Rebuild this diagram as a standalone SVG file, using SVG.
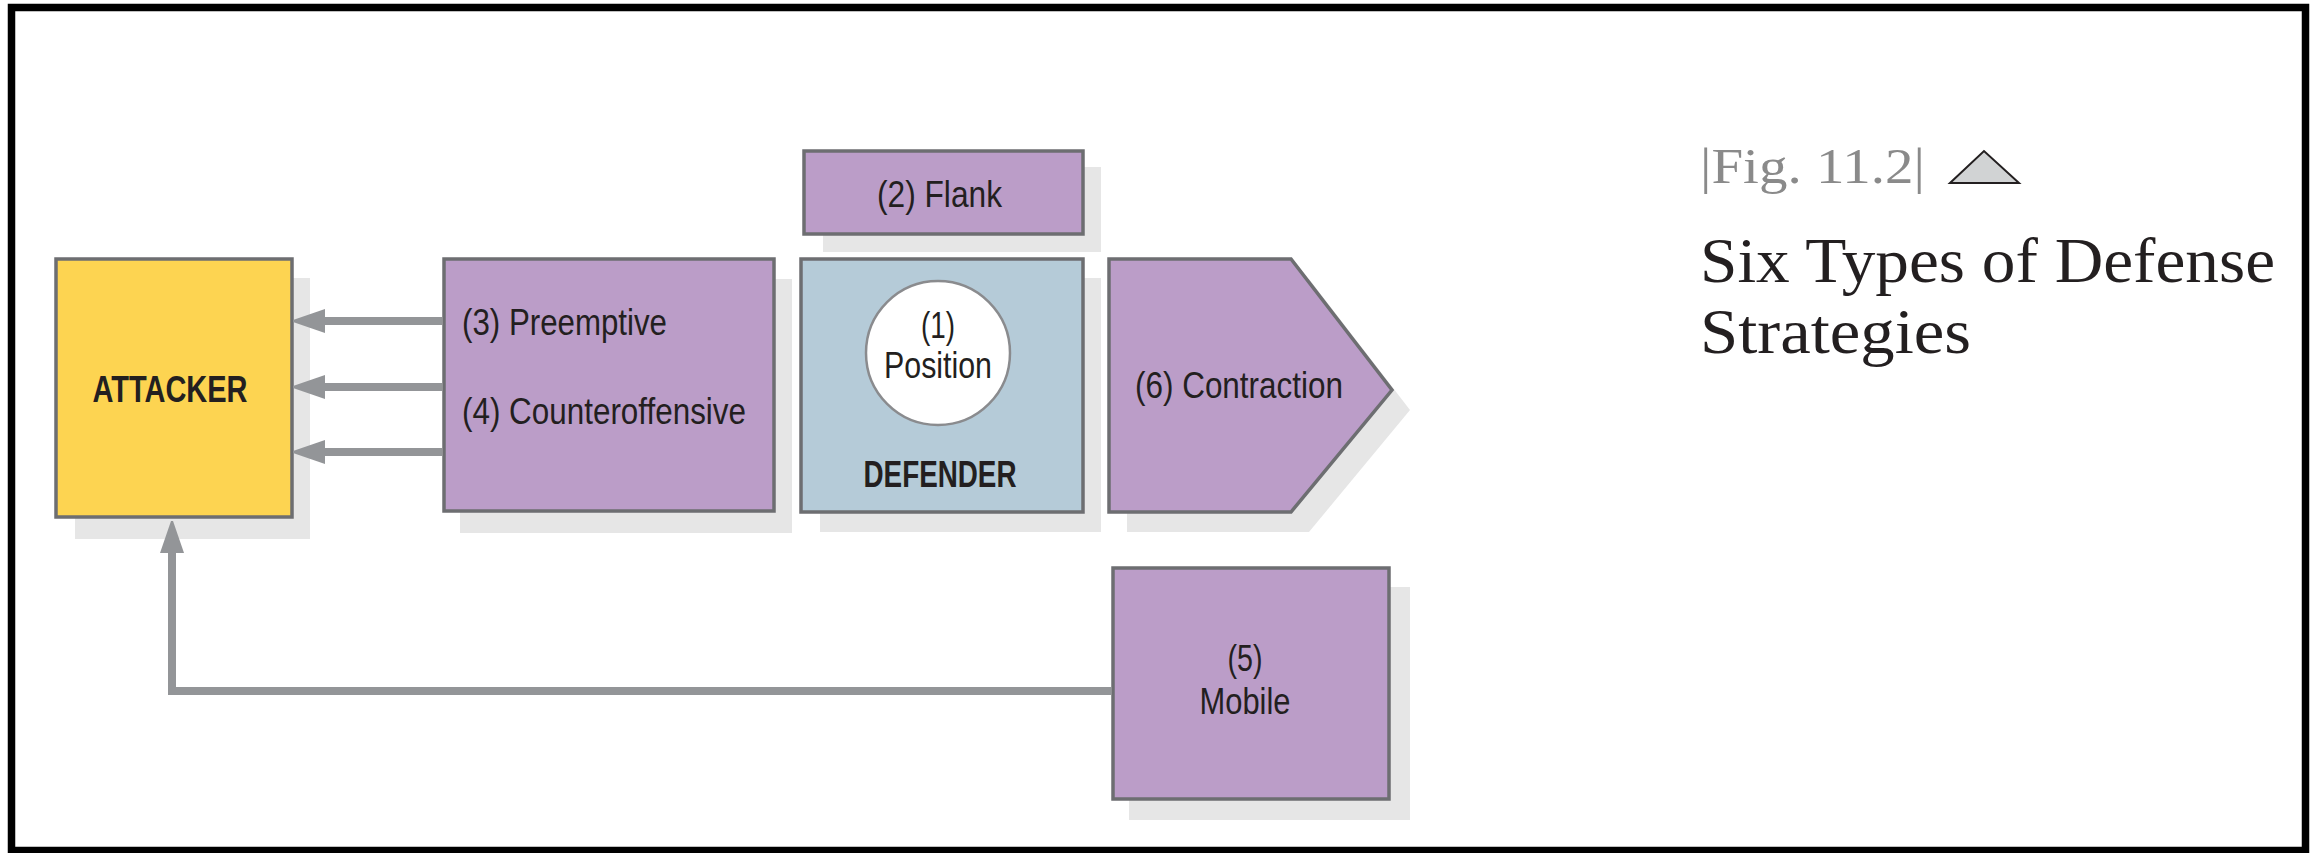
<svg xmlns="http://www.w3.org/2000/svg" width="2310" height="853" viewBox="0 0 2310 853">
<defs>
<style>
.shadow{fill:#e6e6e6;stroke:none}
.box{stroke:#6d6e71;stroke-width:3.5}
.purple{fill:#bb9dc8}
.lbl{font-family:"Liberation Sans",Arial,sans-serif;font-size:37px;fill:#231f20}
.bold{font-weight:bold}
.mid{text-anchor:middle}
.conn{fill:none;stroke:#939598;stroke-width:8;stroke-linejoin:miter}
.title{font-family:"Liberation Serif","Times New Roman",serif;fill:#231f20}
</style>
<marker id="ah" viewBox="0 0 32 24" refX="0" refY="12" markerWidth="32" markerHeight="24" markerUnits="userSpaceOnUse" orient="auto">
<path d="M0,0 L32,11 L32,13 L0,24 z" fill="#939598"/>
</marker>
</defs>
<rect x="0" y="0" width="2310" height="853" fill="#ffffff"/>
<rect x="11.5" y="7.5" width="2294" height="843" fill="none" stroke="#000000" stroke-width="7.5"/>

<g id="attacker">
<rect class="shadow" x="75" y="278" width="235" height="261"/>
<rect class="box" x="56" y="259" width="236" height="258" fill="#fdd451"/>
<text class="lbl bold mid" x="170" y="402" textLength="155" lengthAdjust="spacingAndGlyphs" font-size="38">ATTACKER</text>
</g>

<g id="preemptive-counteroffensive">
<rect class="shadow" x="460" y="279" width="332" height="254"/>
<rect class="box purple" x="444" y="259" width="330" height="252"/>
<text class="lbl" x="462" y="335" textLength="205" lengthAdjust="spacingAndGlyphs" font-size="38">(3)  Preemptive</text>
<text class="lbl" x="462" y="424" textLength="284" lengthAdjust="spacingAndGlyphs" font-size="38">(4)  Counteroffensive</text>
</g>

<g id="flank">
<rect class="shadow" x="823" y="167" width="278" height="85"/>
<rect class="box purple" x="804" y="151" width="279" height="83"/>
<text class="lbl" x="877" y="207" textLength="125" lengthAdjust="spacingAndGlyphs" font-size="38">(2)  Flank</text>
</g>

<g id="defender">
<rect class="shadow" x="820" y="278" width="281" height="254"/>
<rect class="box" x="801" y="259" width="282" height="253" fill="#b5cbd8"/>
<circle cx="938" cy="353" r="72" fill="#ffffff" stroke="#8a8b8e" stroke-width="2.5"/>
<text class="lbl mid" x="938" y="338" textLength="34" lengthAdjust="spacingAndGlyphs" font-size="35">(1)</text>
<text class="lbl mid" x="938" y="378" textLength="108" lengthAdjust="spacingAndGlyphs" font-size="35">Position</text>
<text class="lbl bold mid" x="940" y="487" textLength="153" lengthAdjust="spacingAndGlyphs" font-size="37">DEFENDER</text>
</g>

<g id="contraction">
<polygon class="shadow" points="1127,279 1309,279 1410,410 1309,532 1127,532"/>
<polygon class="box purple" points="1109,259 1291,259 1392,390 1291,512 1109,512"/>
<text class="lbl" x="1135" y="398" textLength="208" lengthAdjust="spacingAndGlyphs" font-size="36">(6)  Contraction</text>
</g>

<g id="mobile">
<rect class="shadow" x="1129" y="587" width="281" height="233"/>
<rect class="box purple" x="1113" y="568" width="276" height="231"/>
<text class="lbl mid" x="1245" y="671" textLength="35" lengthAdjust="spacingAndGlyphs" font-size="37">(5)</text>
<text class="lbl mid" x="1245" y="714" textLength="91" lengthAdjust="spacingAndGlyphs" font-size="37">Mobile</text>
</g>

<g id="connectors">
<line class="conn" x1="442" y1="321" x2="325" y2="321" marker-end="url(#ah)"/>
<line class="conn" x1="442" y1="387" x2="325" y2="387" marker-end="url(#ah)"/>
<line class="conn" x1="442" y1="452" x2="325" y2="452" marker-end="url(#ah)"/>
<polyline class="conn" points="1111,691 172,691 172,553" marker-end="url(#ah)"/>
</g>

<g id="caption">
<text class="title" x="1700" y="183" font-size="50" style="fill:#8a8a8a" textLength="225" lengthAdjust="spacingAndGlyphs">|Fig.  11.2|</text>
<polygon points="1950,183 1984,151 2019,183" fill="#d1d3d4" stroke="#231f20" stroke-width="2"/>
<text class="title" x="1700" y="282" font-size="64" textLength="575" lengthAdjust="spacingAndGlyphs">Six Types of Defense</text>
<text class="title" x="1700" y="353" font-size="64" textLength="271" lengthAdjust="spacingAndGlyphs">Strategies</text>
</g>
</svg>
